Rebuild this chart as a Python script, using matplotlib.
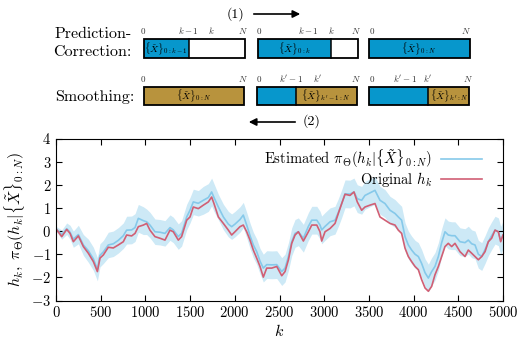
import matplotlib
matplotlib.use('Agg')
import matplotlib.pyplot as plt
from matplotlib.patches import Rectangle
import numpy as np

plt.rcParams['font.family'] = 'serif'
plt.rcParams['font.serif'] = ['cmr10']
plt.rcParams['mathtext.fontset'] = 'cm'
plt.rcParams['axes.formatter.use_mathtext'] = True
plt.rcParams['axes.unicode_minus'] = False

# values
k = [0, 64, 120, 157, 194, 250, 306, 362, 418, 463, 492, 530, 585, 641, 697,
     753, 790, 846, 884, 921, 977, 1014, 1051, 1107, 1163, 1219, 1275, 1312,
     1368, 1405, 1462, 1499, 1536, 1592, 1648, 1704, 1741, 1767, 1816, 1872,
     1928, 1965, 2002, 2058, 2095, 2133, 2170, 2207, 2245, 2282, 2319, 2357,
     2413, 2469, 2525, 2562, 2600, 2637, 2674, 2711, 2767, 2823, 2861, 2917,
     2953, 2972, 3009, 3065, 3121, 3158, 3196, 3233, 3289, 3333, 3370, 3419,
     3456, 3512, 3568, 3624, 3680, 3736, 3792, 3829, 3866, 3904, 3941, 3978,
     4016, 4053, 4090, 4128, 4165, 4202, 4239, 4277, 4314, 4351, 4388, 4426,
     4463, 4519, 4575, 4612, 4650, 4687, 4724, 4762, 4799, 4836, 4873, 4911,
     4948, 4974, 5000]
h_orig = [0.10, -0.24, 0.07, -0.10, -0.46, -0.21, -0.67, -0.96, -1.32, -1.75,
          -1.17, -1.03, -0.70, -0.73, -0.60, -0.46, -0.17, -0.21, -0.10, 0.19,
          0.26, 0.33, 0.04, -0.24, -0.31, -0.39, 0.04, -0.03, -0.39, -0.24,
          0.47, 0.61, 1.04, 0.97, 1.12, 1.26, 1.47, 1.19, 0.61, 0.33, 0.04,
          -0.17, -0.03, 0.19, 0.26, -0.03, -0.39, -0.82, -1.17, -1.53, -1.99,
          -1.60, -1.60, -1.53, -1.93, -1.75, -1.24, -0.53, -0.17, -0.03, -0.43,
          -0.03, 0.26, 0.26, -0.03, -0.43, -0.03, 0.11, 0.33, 0.76, 1.19, 1.59,
          1.54, 1.69, 1.26, 0.90, 1.04, 1.12, 1.19, 0.61, 0.47, 0.33, 0.26,
          0.04, -0.10, -0.74, -1.10, -1.32, -1.53, -1.67, -2.10, -2.46, -2.60,
          -2.39, -1.89, -1.53, -1.10, -0.67, -0.53, -0.67, -0.53, -0.89, -1.10,
          -0.82, -0.96, -1.10, -1.24, -1.10, -0.89, -0.46, -0.31, 0.04, -0.03,
          -0.46, -0.17]
h_est = [0.10, -0.15, 0.10, -0.05, -0.35, -0.15, -0.60, -0.85, -1.20, -1.65,
         -1.05, -0.90, -0.60, -0.55, -0.40, -0.20, 0.04, 0.05, 0.15, 0.55,
         0.45, 0.40, 0.26, -0.03, -0.05, -0.10, 0.15, 0.05, -0.24, -0.10,
         0.61, 0.90, 1.26, 1.20, 1.33, 1.45, 1.69, 1.45, 1.04, 0.61, 0.30,
         0.19, 0.30, 0.50, 0.69, 0.26, -0.20, -0.60, -0.89, -1.30, -1.60,
         -1.45, -1.46, -1.45, -1.75, -1.60, -1.10, -0.46, -0.10, -0.03, -0.31,
         0.20, 0.47, 0.47, 0.26, 0.05, 0.20, 0.40, 0.47, 0.80, 1.19, 1.61,
         1.60, 1.69, 1.40, 1.33, 1.54, 1.65, 1.76, 1.33, 1.19, 0.90, 0.76,
         0.61, 0.47, -0.24, -0.60, -0.82, -1.00, -1.10, -1.40, -1.80, -2.03,
         -1.75, -1.53, -1.10, -0.50, -0.03, -0.17, -0.20, -0.20, -0.46, -0.50,
         -0.39, -0.55, -0.60, -1.00, -1.10, -0.80, -0.46, -0.20, 0.04, -0.03,
         -0.40, -0.17]
band = [0.10, 0.20, 0.25, 0.30, 0.35, 0.40, 0.45, 0.50, 0.50, 0.50, 0.50,
        0.50, 0.55, 0.55, 0.55, 0.55, 0.60, 0.60, 0.60, 0.60, 0.60, 0.55,
        0.55, 0.55, 0.55, 0.55, 0.55, 0.55, 0.55, 0.55, 0.55, 0.55, 0.55,
        0.55, 0.60, 0.60, 0.60, 0.60, 0.55, 0.55, 0.55, 0.55, 0.55, 0.55,
        0.55, 0.55, 0.55, 0.55, 0.55, 0.55, 0.60, 0.60, 0.60, 0.60, 0.60,
        0.60, 0.60, 0.60, 0.60, 0.60, 0.60, 0.60, 0.60, 0.60, 0.60, 0.60,
        0.60, 0.60, 0.60, 0.60, 0.60, 0.60, 0.60, 0.60, 0.60, 0.60, 0.60,
        0.60, 0.60, 0.60, 0.60, 0.60, 0.60, 0.60, 0.60, 0.60, 0.60, 0.60,
        0.60, 0.60, 0.60, 0.60, 0.60, 0.60, 0.60, 0.60, 0.60, 0.60, 0.60,
        0.60, 0.60, 0.60, 0.60, 0.60, 0.60, 0.60, 0.60, 0.60, 0.60, 0.60,
        0.60, 0.60, 0.60, 0.60, 0.60]

k = np.array(k)
h_orig = np.array(h_orig)
h_est = np.array(h_est)
band = np.array(band)

blue_box = '#0797cc'
gold_box = '#b8933d'
est_col = '#86c9ea'
band_col = '#cde9f6'
orig_col = '#d15f74'

W, H = 521, 343
fig = plt.figure(figsize=(W / 100, H / 100), dpi=100)

# main plot
ax = fig.add_axes([56 / W, (H - 300.5) / H, 447 / W, 162 / H])
ax.fill_between(k, h_est - band, h_est + band, color=band_col, lw=0)
ax.plot(k, h_est, color=est_col, lw=1.2,
        label=r'Estimated $\pi_\Theta(h_k|\{\tilde{X}\}_{0:N})$')
ax.plot(k, h_orig, color=orig_col, lw=1.2, label=r'Original $h_k$')
ax.set_xlim(0, 5000)
ax.set_ylim(-3, 4)
ax.set_xticks(range(0, 5001, 500))
ax.set_yticks(range(-3, 5))
ax.tick_params(direction='in', top=True, right=True, labelsize=10.5, length=4, width=0.8)
ax.set_xlabel(r'$k$', fontsize=11.5, labelpad=2)
ax.set_ylabel(r'$h_k,\ \pi_\Theta(h_k|\{\tilde{X}\}_{0:N})$', fontsize=11.5, labelpad=3)
ax.legend(loc='upper right', bbox_to_anchor=(489 / W, 1 - 140 / H),
          bbox_transform=fig.transFigure, markerfirst=False, frameon=False,
          fontsize=10.5, handlelength=2.8, labelspacing=0.0, borderpad=0,
          handletextpad=0.6)

# diagram on top, drawn in pixel coordinates
top = fig.add_axes([0, 0, 1, 1], zorder=-1)
top.set_xlim(0, W)
top.set_ylim(H, 0)
top.axis('off')


def bar(x0, x1, y0, y1, split, left_col, right_col, txt, txt_x):
    if split > x0:
        top.add_patch(Rectangle((x0, y0), split - x0, y1 - y0, color=left_col, lw=0))
    if split < x1:
        top.add_patch(Rectangle((split, y0), x1 - split, y1 - y0, color=right_col, lw=0))
    top.add_patch(Rectangle((x0, y0), x1 - x0, y1 - y0, fill=False, ec='black', lw=1.3))
    if split > x0 and split < x1:
        top.plot([split, split], [y0, y1], color='black', lw=1.1)
    top.text(txt_x, (y0 + y1) / 2, txt, ha='center', va='center', fontsize=7)


def marks(items, y):
    for x, s in items:
        top.text(x, y, s, ha='center', va='baseline', fontsize=6.5, color='#333333')


r1 = (39, 58)
bar(144, 245, *r1, 189, blue_box, 'white', r'$\{\tilde{X}\}_{0:k-1}$', 166)
bar(258, 358, *r1, 331, blue_box, 'white', r'$\{\tilde{X}\}_{0:k}$', 294)
bar(369, 470, *r1, 470, blue_box, 'white', r'$\{\tilde{X}\}_{0:N}$', 419)
marks([(143, '0'), (188, r'$k-1$'), (211, r'$k$'), (243, r'$N$'),
       (259, '0'), (308, r'$k-1$'), (331, r'$k$'), (356, r'$N$'),
       (372, '0'), (466, r'$N$')], 34)

r2 = (87, 105)
bar(144, 244, *r2, 144, blue_box, gold_box, r'$\{\tilde{X}\}_{0:N}$', 194)
bar(257, 357, *r2, 296, blue_box, gold_box, r'$\{\tilde{X}\}_{k^\prime-1:N}$', 326)
bar(369, 469, *r2, 428, blue_box, gold_box, r'$\{\tilde{X}\}_{k^\prime:N}$', 449)
marks([(143, '0'), (243, r'$N$'),
       (259, '0'), (291, r'$k^\prime-1$'), (318, r'$k^\prime$'), (356, r'$N$'),
       (372, '0'), (405, r'$k^\prime-1$'), (428, r'$k^\prime$'), (468, r'$N$')], 82)

top.text(132, 38, 'Prediction-', ha='right', va='baseline', fontsize=11.5)
top.text(132, 56, 'Correction:', ha='right', va='baseline', fontsize=11.5)
top.text(134, 101, 'Smoothing:', ha='right', va='baseline', fontsize=11.5)

top.text(235, 14, '(1)', ha='center', va='center', fontsize=10)
top.annotate('', xy=(303, 14), xytext=(251, 14),
             arrowprops=dict(arrowstyle='-|>', lw=1.2, color='black', mutation_scale=11))
top.text(312, 121, '(2)', ha='center', va='center', fontsize=10)
top.annotate('', xy=(246, 122), xytext=(298, 122),
             arrowprops=dict(arrowstyle='-|>', lw=1.2, color='black', mutation_scale=11))

fig.savefig('out.png', dpi=100)
